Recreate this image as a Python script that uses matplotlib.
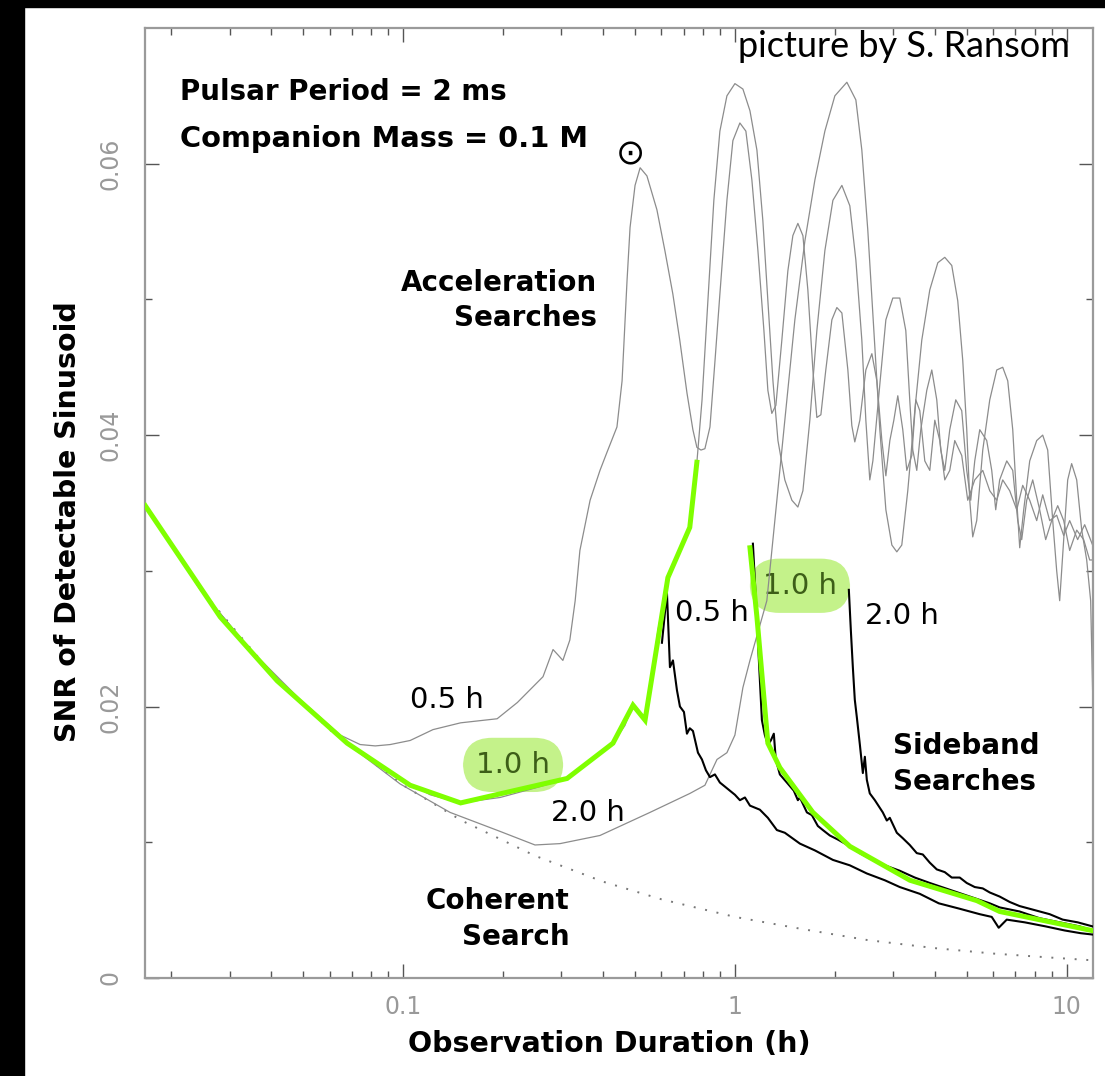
import matplotlib
matplotlib.use("Agg")
import matplotlib.pyplot as plt
from matplotlib.patches import Rectangle

# coherent search limit (dotted)
coh_hours = [0.0167, 0.025, 0.04, 0.06, 0.1, 0.15, 0.25, 0.4, 0.6, 1.0, 1.6, 2.5, 4.0, 6.0, 9.0, 12.0]
coh_snr = [0.0348, 0.0284, 0.0225, 0.0183, 0.0142, 0.0116, 0.0090, 0.0071, 0.0058, 0.0045,
           0.0036, 0.0028, 0.0022, 0.0018, 0.0015, 0.0013]

# acceleration searches, orbital period 0.5 h / 1.0 h / 2.0 h (grey)
acc05_hours = [0.0167, 0.0245, 0.0346, 0.0490, 0.0646, 0.0742, 0.0824, 0.0914, 0.105, 0.123,
               0.149, 0.192, 0.221, 0.264, 0.283, 0.293, 0.303, 0.318, 0.330, 0.341,
               0.366, 0.392, 0.411, 0.441, 0.457, 0.473, 0.483, 0.500, 0.518, 0.543,
               0.582, 0.615, 0.650, 0.682, 0.717, 0.747, 0.768, 0.790, 0.812, 0.841,
               0.871, 0.901, 0.946, 0.986, 1.035, 1.079, 1.125, 1.173, 1.223, 1.257,
               1.292, 1.329, 1.385, 1.444, 1.495, 1.548, 1.603, 1.659, 1.718, 1.766,
               1.816, 1.879, 1.960, 2.029, 2.101, 2.190, 2.251, 2.298, 2.380, 2.481,
               2.587, 2.678, 2.773, 2.851, 2.931, 3.013, 3.097, 3.206, 3.297, 3.413,
               3.509, 3.608, 3.735, 3.867, 4.004, 4.145, 4.291, 4.442, 4.599, 4.827,
               5.032, 5.283, 5.585, 5.863, 6.154, 6.415, 6.734, 7.071, 7.370, 7.737,
               8.122, 8.467, 8.889, 9.330, 9.795, 10.21, 10.79, 11.33, 11.97]
acc05_snr = [0.0348, 0.0286, 0.0242, 0.0205, 0.0179, 0.0172, 0.0171, 0.0172, 0.0175, 0.0183,
             0.0188, 0.0191, 0.0203, 0.0222, 0.0242, 0.0238, 0.0234, 0.0249, 0.0278, 0.0315,
             0.0352, 0.0374, 0.0387, 0.0406, 0.0440, 0.0514, 0.0553, 0.0584, 0.0597, 0.0591,
             0.0566, 0.0536, 0.0504, 0.0470, 0.0431, 0.0404, 0.0391, 0.0389, 0.0390, 0.0406,
             0.0455, 0.0504, 0.0573, 0.0617, 0.0630, 0.0624, 0.0588, 0.0536, 0.0477, 0.0433,
             0.0416, 0.0422, 0.0470, 0.0521, 0.0547, 0.0556, 0.0547, 0.0507, 0.0448, 0.0413,
             0.0415, 0.0448, 0.0485, 0.0494, 0.0490, 0.0448, 0.0407, 0.0395, 0.0411, 0.0448,
             0.0460, 0.0440, 0.0396, 0.0370, 0.0396, 0.0411, 0.0429, 0.0404, 0.0374, 0.0385,
             0.0426, 0.0418, 0.0381, 0.0374, 0.0411, 0.0396, 0.0367, 0.0374, 0.0396, 0.0385,
             0.0352, 0.0367, 0.0374, 0.0359, 0.0352, 0.0367, 0.0359, 0.0345, 0.0363, 0.0352,
             0.0337, 0.0356, 0.0337, 0.0341, 0.0326, 0.0337, 0.0323, 0.0334, 0.0319]

acc10_hours = [0.0167, 0.0245, 0.0346, 0.0490, 0.0692, 0.0979, 0.1206, 0.1486, 0.196, 0.2587,
               0.312, 0.366, 0.429, 0.466, 0.493, 0.514, 0.536, 0.555, 0.586, 0.628,
               0.682, 0.732, 0.768, 0.796, 0.829, 0.864, 0.901, 0.946, 1.000, 1.057,
               1.110, 1.165, 1.214, 1.257, 1.302, 1.348, 1.414, 1.485, 1.548, 1.603,
               1.682, 1.766, 1.867, 1.974, 2.101, 2.220, 2.315, 2.413, 2.481, 2.550,
               2.605, 2.740, 2.851, 2.992, 3.140, 3.274, 3.365, 3.437, 3.533, 3.633,
               3.787, 3.921, 4.059, 4.173, 4.291, 4.442, 4.631, 4.827, 4.997, 5.138,
               5.283, 5.470, 5.741, 5.944, 6.111, 6.280, 6.597, 6.877, 7.119, 7.319,
               7.577, 7.900, 8.291, 8.644, 9.012, 9.396, 9.795, 10.21, 10.72, 11.25,
               11.73, 11.97]
acc10_snr = [0.0348, 0.0286, 0.0242, 0.0203, 0.0172, 0.0147, 0.0135, 0.0129, 0.0133, 0.0141,
             0.0147, 0.0159, 0.0173, 0.0186, 0.0201, 0.0196, 0.0190, 0.0212, 0.0256, 0.0295,
             0.0315, 0.0332, 0.0380, 0.0426, 0.0499, 0.0573, 0.0624, 0.0650, 0.0659, 0.0655,
             0.0639, 0.0610, 0.0558, 0.0499, 0.0440, 0.0396, 0.0367, 0.0352, 0.0347, 0.0359,
             0.0411, 0.0477, 0.0536, 0.0573, 0.0584, 0.0569, 0.0529, 0.0470, 0.0411, 0.0367,
             0.0381, 0.0440, 0.0485, 0.0501, 0.0501, 0.0477, 0.0426, 0.0389, 0.0374, 0.0404,
             0.0433, 0.0448, 0.0426, 0.0389, 0.0374, 0.0404, 0.0426, 0.0418, 0.0374, 0.0352,
             0.0381, 0.0404, 0.0396, 0.0374, 0.0345, 0.0367, 0.0381, 0.0374, 0.0337, 0.0323,
             0.0352, 0.0367, 0.0345, 0.0323, 0.0337, 0.0348, 0.0337, 0.0315, 0.0330, 0.0323,
             0.0308, 0.0308]

acc20_hours = [0.0167, 0.0245, 0.0346, 0.0490, 0.0692, 0.0979, 0.1385, 0.196, 0.2497, 0.2971,
               0.392, 0.5546, 0.732, 0.812, 0.883, 0.946, 1.000, 1.057, 1.110, 1.248,
               1.338, 1.414, 1.516, 1.625, 1.742, 1.867, 2.001, 2.175, 2.315, 2.413,
               2.515, 2.623, 2.734, 2.851, 2.972, 3.076, 3.184, 3.319, 3.485, 3.658,
               3.867, 4.088, 4.291, 4.504, 4.695, 4.861, 4.998, 5.103, 5.210, 5.356,
               5.585, 5.863, 6.154, 6.415, 6.643, 6.877, 7.071, 7.218, 7.421, 7.737,
               8.122, 8.467, 8.766, 9.076, 9.330, 9.526, 9.795, 10.07, 10.35, 10.72,
               11.10, 11.49, 11.81, 11.97]
acc20_snr = [0.0348, 0.0286, 0.0242, 0.0203, 0.0171, 0.0143, 0.0122, 0.0108, 0.0098, 0.0099,
             0.0105, 0.0122, 0.0136, 0.0142, 0.0161, 0.0166, 0.0179, 0.0214, 0.0234, 0.0278,
             0.0352, 0.0411, 0.0485, 0.0543, 0.0588, 0.0624, 0.0650, 0.0660, 0.0647, 0.0610,
             0.0551, 0.0477, 0.0404, 0.0345, 0.0319, 0.0314, 0.0319, 0.0359, 0.0418, 0.0470,
             0.0507, 0.0527, 0.0531, 0.0525, 0.0499, 0.0455, 0.0404, 0.0352, 0.0325, 0.0337,
             0.0389, 0.0426, 0.0448, 0.0450, 0.0440, 0.0404, 0.0352, 0.0317, 0.0345, 0.0381,
             0.0396, 0.0400, 0.0389, 0.0337, 0.0300, 0.0278, 0.0323, 0.0367, 0.0379, 0.0367,
             0.0330, 0.0308, 0.0278, 0.0212]

# sideband searches (black)
side05_hours = [0.6026, 0.6239, 0.6370, 0.6505, 0.6688, 0.6828, 0.7021, 0.7168, 0.7311, 0.7473,
                0.7738, 0.7955, 0.8179, 0.841, 0.8704, 0.901, 0.933, 0.9658, 1.0, 1.0353,
                1.072, 1.110, 1.189, 1.257, 1.338, 1.414, 1.570, 1.742, 1.974, 2.220,
                2.498, 2.830, 3.14, 3.608, 4.117, 4.76, 5.47, 5.944, 6.239, 6.597,
                7.473, 8.644, 9.863, 11.02, 11.97]
side05_snr = [0.0247, 0.0284, 0.0229, 0.0234, 0.0212, 0.0200, 0.0196, 0.0180, 0.0184, 0.0182,
              0.0166, 0.0161, 0.0153, 0.0148, 0.0150, 0.0144, 0.0141, 0.0138, 0.0135, 0.0131,
              0.0133, 0.0127, 0.0124, 0.0118, 0.0109, 0.0107, 0.0099, 0.0094, 0.0087, 0.0083,
              0.0077, 0.0072, 0.0067, 0.0062, 0.0055, 0.0051, 0.0047, 0.0045, 0.0037, 0.0043,
              0.0041, 0.0038, 0.0035, 0.0033, 0.0032]

side10_hours = [1.133, 1.157, 1.181, 1.206, 1.231, 1.257, 1.283, 1.310, 1.328, 1.366,
                1.434, 1.505, 1.548, 1.570, 1.648, 1.706, 1.778, 1.841, 1.932, 2.043,
                2.220, 2.38, 2.55, 2.830, 3.14, 3.485, 3.866, 4.442, 5.103, 5.863,
                6.28, 7.21, 8.29, 9.52, 10.94, 11.97]
side10_snr = [0.0320, 0.0278, 0.0234, 0.0190, 0.0179, 0.0172, 0.0175, 0.0180, 0.0161, 0.0150,
              0.0144, 0.0138, 0.0131, 0.0133, 0.0122, 0.0120, 0.0112, 0.0109, 0.0105, 0.0102,
              0.0097, 0.0092, 0.0088, 0.0083, 0.0079, 0.0074, 0.0070, 0.0065, 0.0060, 0.0055,
              0.0052, 0.0049, 0.0044, 0.0041, 0.0038, 0.0035]

side20_hours = [2.205, 2.236, 2.267, 2.298, 2.331, 2.38, 2.430, 2.464, 2.498, 2.55,
                2.641, 2.74, 2.791, 2.870, 2.93, 3.076, 3.206, 3.365, 3.533, 3.684,
                3.866, 4.059, 4.290, 4.504, 4.76, 4.997, 5.283, 5.585, 5.863, 6.28,
                6.735, 7.21, 8.008, 8.887, 9.727, 10.79, 11.97]
side20_snr = [0.0286, 0.0256, 0.0229, 0.0205, 0.0192, 0.0172, 0.0151, 0.0163, 0.0146, 0.0136,
              0.0131, 0.0125, 0.0122, 0.0116, 0.0118, 0.0107, 0.0103, 0.0098, 0.0092, 0.0091,
              0.0085, 0.0080, 0.0078, 0.0074, 0.0074, 0.0070, 0.0067, 0.0066, 0.0063, 0.0060,
              0.0056, 0.0053, 0.0050, 0.0047, 0.0043, 0.0041, 0.0038]

# best search for the 1.0 h orbit (highlighted in green)
best_acc_hours = [0.0167, 0.0281, 0.0417, 0.0678, 0.105, 0.149, 0.312, 0.429, 0.493, 0.536,
                  0.628, 0.731, 0.768]
best_acc_snr = [0.0348, 0.0266, 0.0219, 0.0173, 0.0142, 0.0129, 0.0147, 0.0173, 0.0201, 0.0190,
                0.0295, 0.0332, 0.0380]
best_side_hours = [1.11, 1.165, 1.257, 1.366, 1.718, 2.22, 3.37, 5.36, 6.28, 11.9]
best_side_snr = [0.0317, 0.0266, 0.0173, 0.0155, 0.0122, 0.0097, 0.0072, 0.0057, 0.0049, 0.0035]

x_ticks = [0.1, 1, 10]
x_ticklabels = ["0.1", "1", "10"]
y_ticks = [0, 0.02, 0.04, 0.06]
y_ticklabels = ["0", "0.02", "0.04", "0.06"]

GREY = "#8c8c8c"
GREEN = "#7fff00"
HILITE = "#c4f28a"

fig = plt.figure(figsize=(11.05, 10.76), dpi=100, facecolor="white")
ax = fig.add_axes([0.1312, 0.0911, 0.8579, 0.8829])

ax.plot(coh_hours, coh_snr, color="#777777", lw=1.4, ls=(0, (1, 5)), zorder=2)
for h, s in [(acc05_hours, acc05_snr), (acc10_hours, acc10_snr), (acc20_hours, acc20_snr)]:
    ax.plot(h, s, color=GREY, lw=0.9, zorder=2)
for h, s in [(side05_hours, side05_snr), (side10_hours, side10_snr), (side20_hours, side20_snr)]:
    ax.plot(h, s, color="black", lw=1.5, zorder=3)
ax.plot(best_acc_hours, best_acc_snr, color=GREEN, lw=3.6, solid_joinstyle="miter", zorder=4)
ax.plot(best_side_hours, best_side_snr, color=GREEN, lw=3.6, solid_joinstyle="miter", zorder=4)

ax.set_xscale("log")
ax.set_xlim(1 / 60, 12)
ax.set_ylim(0, 0.07)
ax.set_xticks(x_ticks, labels=x_ticklabels)
ax.set_xticks([m * d for d in (0.01, 0.1, 1) for m in range(2, 10) if m * d > 1 / 60],
              minor=True)
ax.xaxis.set_minor_formatter(plt.NullFormatter())
ax.set_yticks(y_ticks, labels=y_ticklabels)
ax.set_yticks([0.01, 0.03, 0.05], minor=True)
ax.tick_params(which="both", direction="in", top=True, right=True, color="#555555", width=1)
ax.tick_params(which="major", length=10)
ax.tick_params(which="minor", length=5)
ax.tick_params(axis="x", labelsize=17, labelcolor="#999999", pad=12)
ax.tick_params(axis="y", labelsize=17, labelcolor="#999999", pad=16, labelrotation=90)
for lab in ax.get_yticklabels():
    lab.set_verticalalignment("center")
for sp in ax.spines.values():
    sp.set_color("#9a9a9a")
    sp.set_linewidth(1.6)

ax.set_xlabel("Observation Duration (h)", fontsize=20.5, fontweight="bold")
ax.xaxis.set_label_coords(0.49, -0.055)
ax.set_ylabel("SNR of Detectable Sinusoid", fontsize=20.5, fontweight="bold")
ax.yaxis.set_label_coords(-0.066, 0.48)

bold = dict(fontsize=20, fontweight="bold", transform=ax.transAxes)
ax.text(0.037, 0.933, "Pulsar Period = 2 ms", ha="left", va="center", **bold)
ax.text(0.037, 0.883, "Companion Mass = 0.1 M", ha="left", va="center",
        fontsize=20.8, fontweight="bold", transform=ax.transAxes)
ax.text(0.5105, 0.867, r"$\odot$", ha="center", va="center", fontsize=25,
        transform=ax.transAxes)
ax.text(0.477, 0.713, "Acceleration\nSearches", ha="right", va="center",
        multialignment="right", linespacing=1.35, **bold)
ax.text(0.789, 0.225, "Sideband\nSearches", ha="left", va="center",
        multialignment="left", linespacing=1.35, **bold)
ax.text(0.448, 0.062, "Coherent\nSearch", ha="right", va="center",
        multialignment="right", linespacing=1.35, **bold)
ax.text(0.976, 0.981, "picture by S. Ransom", ha="right", va="center", fontsize=26,
        family=["Lato", "DejaVu Sans"], color="black", transform=ax.transAxes)

# orbital period labels
plain = dict(fontsize=21, ha="center", va="center", zorder=5)
ax.text(0.1357, 0.0205, "0.5 h", **plain)
ax.text(0.3607, 0.01215, "2.0 h", **plain)
ax.text(0.852, 0.0269, "0.5 h", **plain)
ax.text(3.18, 0.0267, "2.0 h", **plain)
box = dict(boxstyle="round,pad=0.45,rounding_size=1.0", fc=HILITE, ec="none")
ax.text(0.2145, 0.0157, "1.0 h", fontsize=21, ha="center", va="center", color="#3d5e18",
        bbox=box, zorder=1.5)
ax.text(1.57, 0.0289, "1.0 h", fontsize=21, ha="center", va="center", color="#3d5e18",
        bbox=box, zorder=1.5)

# dark frame around the slide
fig.add_artist(Rectangle((0, 0), 24 / 1105, 1, transform=fig.transFigure, color="black"))
fig.add_artist(Rectangle((0, 1 - 7 / 1076), 1, 7 / 1076, transform=fig.transFigure, color="black"))

fig.savefig("out.png", dpi=100, facecolor="white")
